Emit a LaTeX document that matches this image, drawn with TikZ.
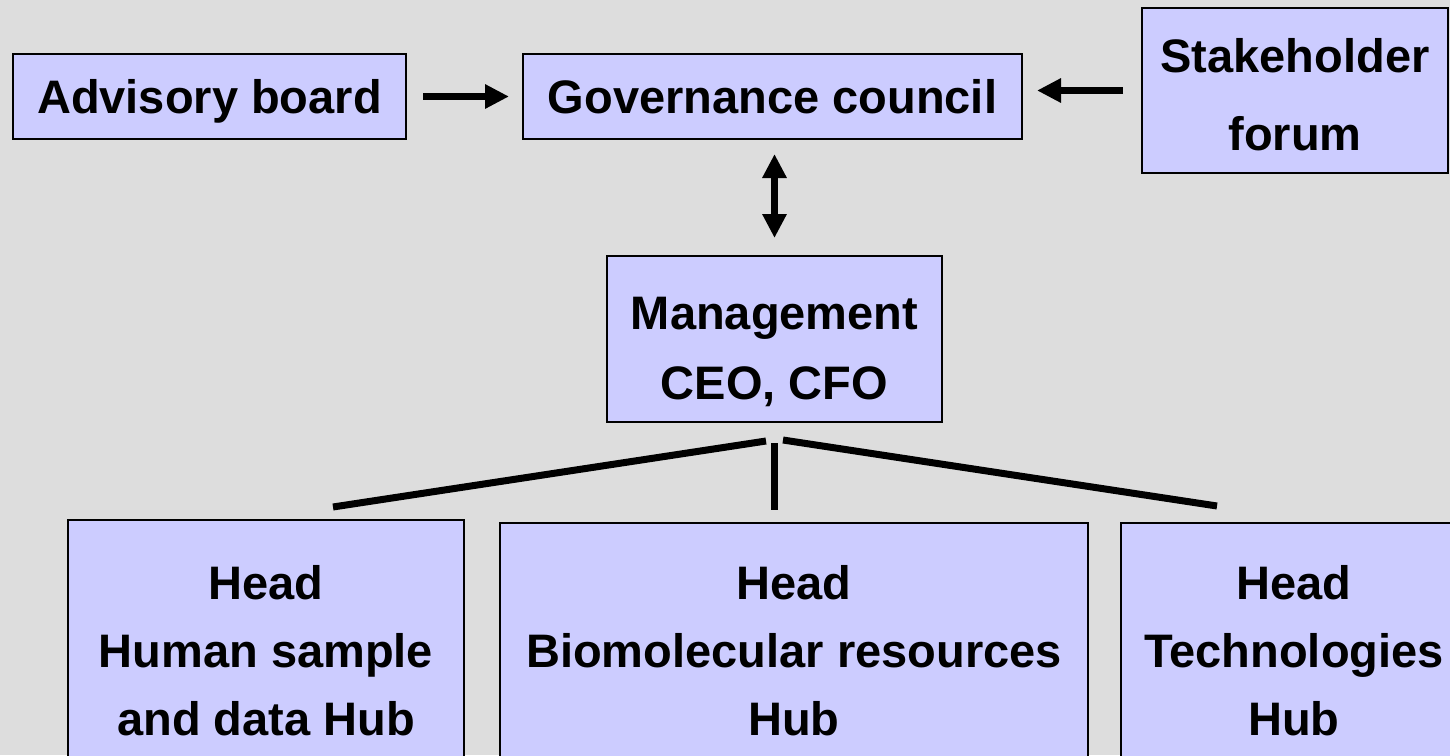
\documentclass[tikz,border=0pt]{standalone}
\usepackage{fontspec}
\setmainfont{Liberation Sans}
\usetikzlibrary{arrows.meta}
\definecolor{bg}{HTML}{DDDDDD}
\definecolor{boxfill}{HTML}{CCCCFF}
\begin{document}
\begin{tikzpicture}[x=1pt,y=-1pt,
  box/.style={draw=black, line width=2pt, fill=boxfill, inner sep=0pt, align=center,
    font=\fontsize{47}{70}\selectfont\bfseries},
  hubbox/.style={box, font=\fontsize{47}{68}\selectfont\bfseries},
  oneline/.style={text height=33.7pt, text depth=0pt},
  conn/.style={line width=7pt},
  arr/.style={conn, -{Triangle[length=24pt,width=23pt]}},
  darr/.style={conn, {Triangle[length=24pt,width=23pt]}-{Triangle[length=24pt,width=23pt]}}]
\useasboundingbox (0,0) rectangle (1450,755);
\clip (0,0) rectangle (1450,755);
\fill[bg] (0,0) rectangle (1450,755);
% top row
\node[box, oneline, minimum width=393pt, minimum height=85pt] (adv) at (209.5,96.5) {Advisory board};
\node[box, oneline, minimum width=499pt, minimum height=85pt] (gov) at (772.5,96.5) {Governance council};
\node[box, minimum width=306pt, minimum height=165pt] (stake) at (1295,90.5) {\rule{0pt}{41.7pt}Stakeholder\\[8pt]forum};
% management
\node[box, minimum width=335pt, minimum height=166pt] (mgmt) at (774.5,339) {\rule{0pt}{57.7pt}Management\\CEO, CFO};
% hubs
\node[hubbox, minimum width=396pt, minimum height=262pt] (hub1) at (266,651) {Head\\Human sample\\and data Hub};
\node[hubbox, minimum width=588pt, minimum height=256pt] (hub2) at (794,651) {Head\\Biomolecular resources\\Hub};
\node[hubbox, minimum width=346pt, minimum height=256pt] (hub3) at (1294,651) {Head\\Technologies\\Hub};
% arrows
\draw[arr, shorten <=16pt, shorten >=13pt] (adv.east) -- (gov.west);
\draw[arr, shorten <=18pt, shorten >=14pt] (stake.west) -- (stake.west -| gov.east);
\draw[darr, shorten <=14pt, shorten >=17pt] (mgmt.north |- gov.south) -- (mgmt.north);
% tree
\coordinate (tl1) at (766,441);
\coordinate (tl2) at (333,507);
\coordinate (tm1) at (774,443);
\coordinate (tm2) at (774,510);
\coordinate (tr1) at (783,440);
\coordinate (tr2) at (1217,506);
\draw[conn] (tl1) -- (tl2);
\draw[conn] (tm1) -- (tm2);
\draw[conn] (tr1) -- (tr2);
\end{tikzpicture}
\end{document}
